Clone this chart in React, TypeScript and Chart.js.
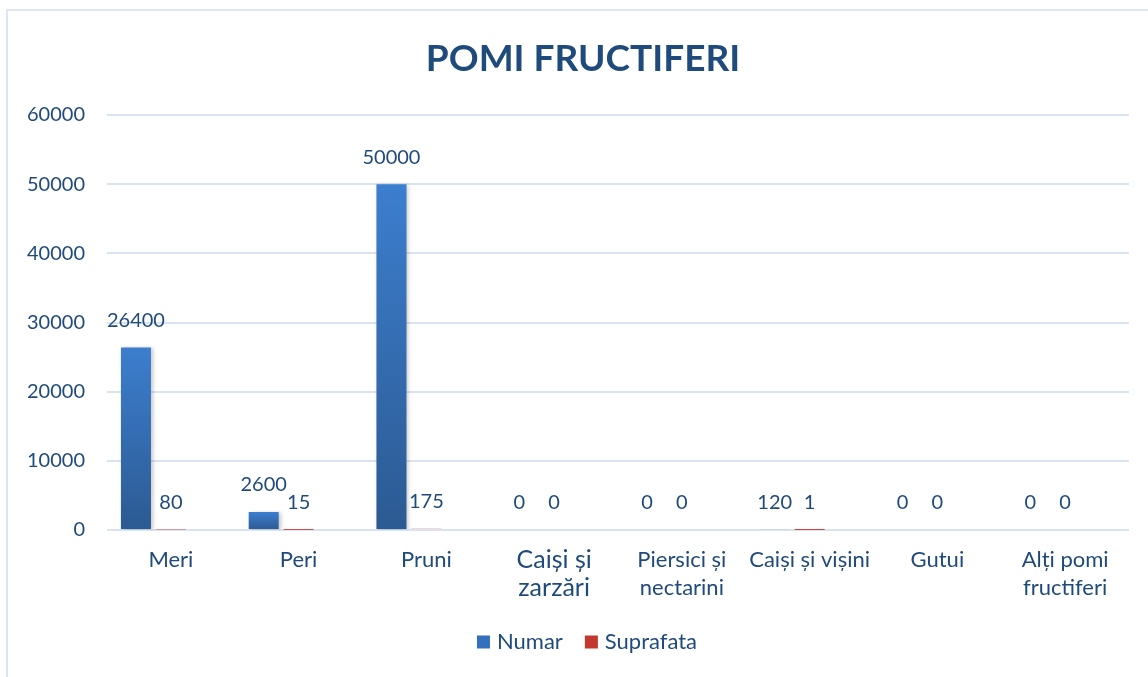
import React, { useEffect, useRef } from "react";
import { Chart, registerables } from "chart.js";

Chart.register(...registerables);

const categories: (string | string[])[] = [
  "Meri",
  "Peri",
  "Pruni",
  ["Caiși și", "zarzări"],
  ["Piersici și", "nectarini"],
  "Caiși și vișini",
  "Gutui",
  ["Alți pomi", "fructiferi"],
];
const numarValues = [26400, 2600, 50000, 0, 0, 120, 0, 0];
const suprafataValues = [80, 15, 175, 0, 0, 1, 0, 0];
const emptyValues = [null, null, null, null, null, null, null, null];
const seriesNames = ["Numar", "Suprafata"];
const legendColors = ["#3570BE", "#C23830"];
const titleText = "POMI FRUCTIFERI";

const FONT = "Lato, 'Open Sans', sans-serif";
const TEXT = "#1F4A7C";

function barGradient(ctx: any, top: string, bottom: string, solid: string) {
  const chart = ctx.chart;
  if (!chart.chartArea || ctx.type !== "data") return solid;
  const y = chart.scales.y;
  const v = ctx.parsed ? ctx.parsed.y : ctx.raw;
  const yTop = y.getPixelForValue(v ?? 0);
  const yBase = y.getPixelForValue(0);
  if (Math.abs(yBase - yTop) < 5) return solid;
  const g = chart.ctx.createLinearGradient(0, yTop, 0, yBase);
  g.addColorStop(0, top);
  g.addColorStop(1, bottom);
  return g;
}

const shadowPlugin = {
  id: "barShadow",
  beforeDatasetDraw(chart: any, args: any) {
    const c = chart.ctx;
    c.save();
    if (args.index === 0) {
      c.shadowColor = "rgba(0,0,0,0.22)";
      c.shadowBlur = 4;
      c.shadowOffsetX = 2;
      c.shadowOffsetY = 1;
    }
  },
  afterDatasetDraw(chart: any) {
    chart.ctx.restore();
  },
};

const labelPlugin = {
  id: "valueLabels",
  afterDatasetsDraw(chart: any) {
    const c = chart.ctx;
    c.save();
    c.font = `20px ${FONT}`;
    c.fillStyle = TEXT;
    c.textAlign = "center";
    c.textBaseline = "middle";
    [0, 1].forEach((di) => {
      const meta = chart.getDatasetMeta(di);
      meta.data.forEach((el: any, i: number) => {
        const v = chart.data.datasets[di].data[i];
        if (v === null || v === undefined) return;
        c.fillText(String(v), el.x, el.y - 27);
      });
    });
    c.restore();
  },
};

const titleLegendPlugin = {
  id: "titleLegend",
  afterDraw(chart: any) {
    const c = chart.ctx;
    c.save();
    c.font = `bold 37px ${FONT}`;
    c.fillStyle = TEXT;
    c.textAlign = "center";
    c.textBaseline = "alphabetic";
    c.fillText(titleText, 583, 71);

    // legend
    c.font = `22px ${FONT}`;
    c.textAlign = "left";
    c.textBaseline = "middle";
    const box = 13;
    const gapBoxText = 7;
    const gapItems = 22;
    const widths = seriesNames.map((n) => c.measureText(n).width);
    const total = widths.reduce((a, w) => a + box + gapBoxText + w, 0) + gapItems * (seriesNames.length - 1);
    let x = 587 - total / 2;
    const cy = 642;
    seriesNames.forEach((n, i) => {
      c.fillStyle = legendColors[i];
      c.fillRect(x, cy - box / 2, box, box);
      c.fillStyle = TEXT;
      c.fillText(n, x + box + gapBoxText, cy);
      x += box + gapBoxText + widths[i] + gapItems;
    });
    c.restore();
  },
};

export default function App() {
  const ref = useRef<HTMLCanvasElement>(null);
  useEffect(() => {
    document.body.style.margin = "0";
    const chart = new Chart(ref.current!, {
      type: "bar",
      data: {
        labels: categories,
        datasets: [
          {
            label: seriesNames[0],
            data: numarValues,
            backgroundColor: (ctx: any) => barGradient(ctx, "#3C7ECE", "#2C5A92", "#8FB0DC"),
            borderWidth: 0,
          },
          {
            label: seriesNames[1],
            data: suprafataValues,
            backgroundColor: (ctx: any) => barGradient(ctx, "#D8403A", "#A8302A", "#D8403A"),
            borderWidth: 0,
          },
          {
            label: "",
            data: emptyValues,
            backgroundColor: "rgba(0,0,0,0)",
          },
        ],
      },
      options: {
        animation: false,
        responsive: false,
        maintainAspectRatio: false,
        datasets: { bar: { categoryPercentage: 0.82, barPercentage: 0.86 } },
        layout: { padding: { left: 7, right: 19, top: 115, bottom: 57 } },
        plugins: {
          title: { display: false },
          legend: { display: false },
          tooltip: { enabled: false },
        },
        scales: {
          x: {
            grid: { display: false, drawTicks: false },
            border: { display: false },
            ticks: {
              color: TEXT,
              padding: 16,
              maxRotation: 0,
              autoSkip: false,
              font: (c: any) => ({ family: FONT, size: c.index === 3 ? 25 : 22, lineHeight: c.index === 3 ? 1.12 : 1.27 }),
            },
            afterFit: (s: any) => {
              s.height = 90;
            },
          },
          y: {
            min: 0,
            max: 60000,
            ticks: {
              stepSize: 10000,
              color: TEXT,
              padding: 22,
              font: { family: FONT, size: 20 },
              callback: (v: any) => String(v),
            },
            grid: { color: "#D9E4F3", lineWidth: 2, drawTicks: false },
            border: { display: false },
            afterFit: (s: any) => {
              s.width = 100;
            },
          },
        },
      },
      plugins: [shadowPlugin, labelPlugin, titleLegendPlugin],
    } as any);
    return () => chart.destroy();
  }, []);
  return (
    <div style={{ position: "relative", width: 1148, height: 677, overflow: "hidden", background: "#fff" }}>
      <div
        style={{
          position: "absolute",
          left: 6,
          top: 9,
          width: 1160,
          height: 700,
          border: "2px solid #DCE5F2",
          boxSizing: "border-box",
        }}
      />
      <canvas ref={ref} width={1148} height={677} style={{ position: "absolute", left: 0, top: 0 }} />
    </div>
  );
}
